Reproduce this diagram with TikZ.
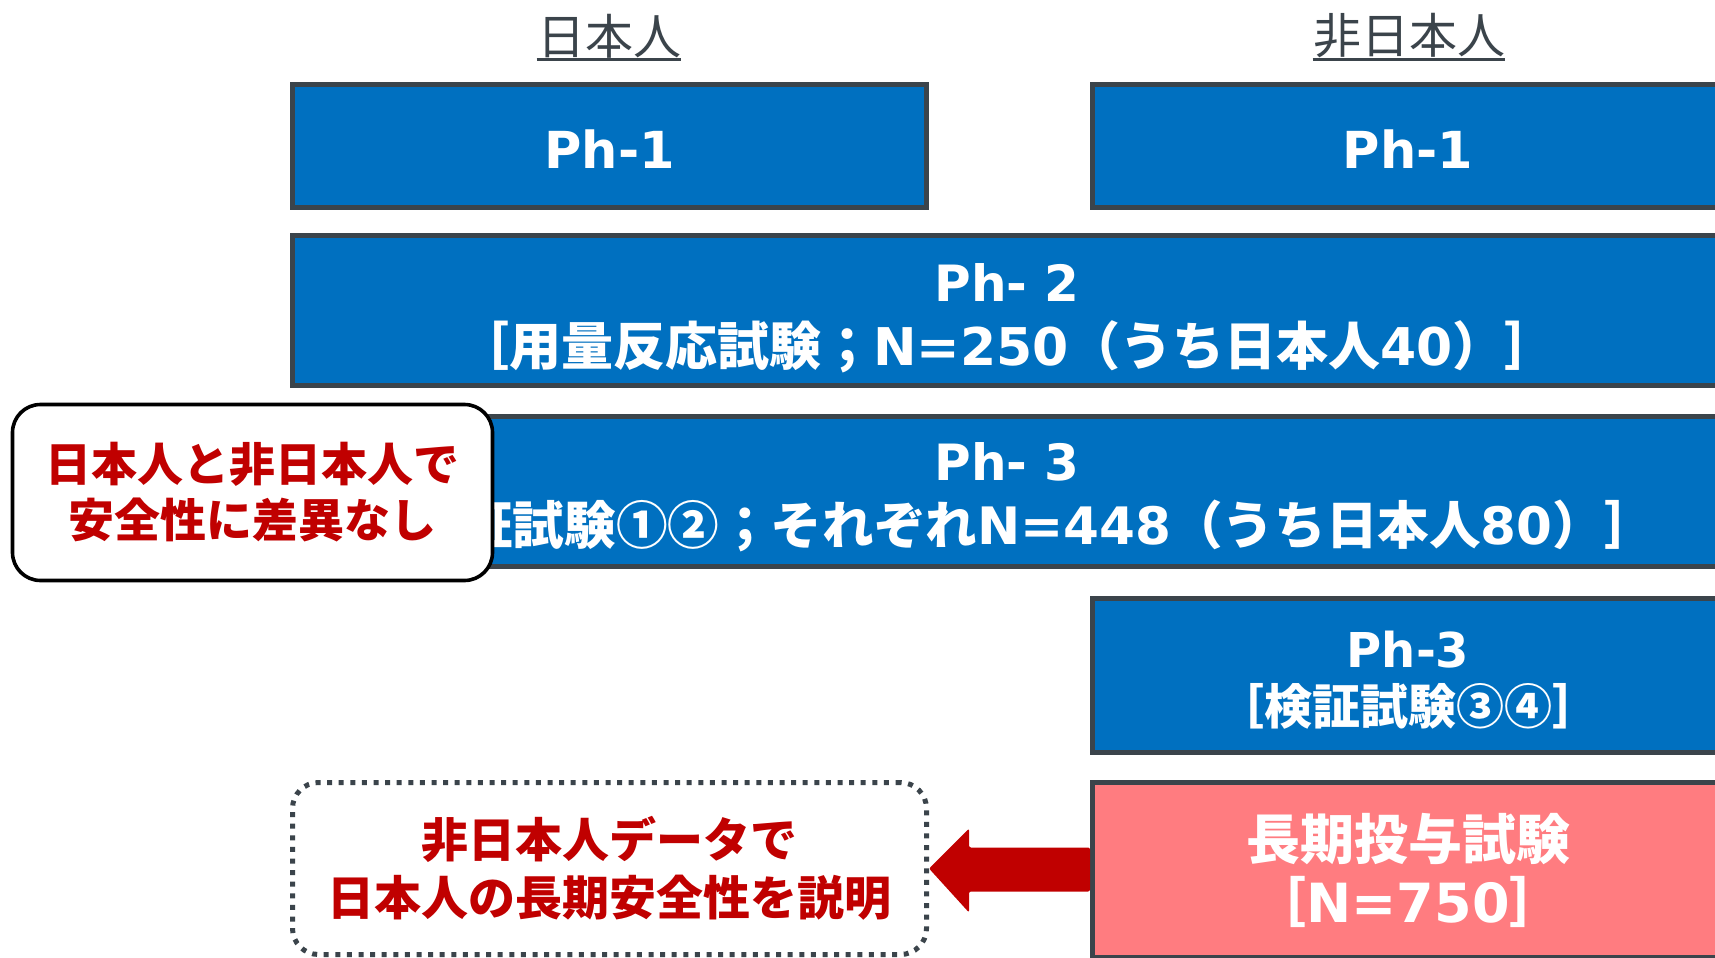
\documentclass[tikz,border=0pt]{standalone}
\usepackage{fontspec}
\setmainfont{DejaVu Sans}
\newfontfamily\jp{Noto Sans CJK JP}
\usetikzlibrary{calc}
\definecolor{boxblue}{HTML}{0070C0}
\definecolor{boxline}{HTML}{3B444B}
\definecolor{pinkfill}{HTML}{FF7C80}
\definecolor{darkred}{HTML}{C00000}
\begin{document}
\begin{tikzpicture}[x=0.5pt,y=-0.5pt,
  phase/.style={draw=boxline, line width=2.5pt, fill=boxblue, inner sep=0pt},
  longbox/.style={phase, fill=pinkfill},
  phasetext/.style={text=white, align=center, inner sep=0pt, font=\bfseries},
  title/.style={font=\jp\fontsize{24}{28}\selectfont, text=boxline, inner sep=0pt},
  remark/.style={text=darkred, align=center, inner sep=0pt},
  calloutbox/.style={remark, draw=black, fill=white, line width=1.8pt, rounded corners=14pt},
  dotbox/.style={remark, draw=boxline, line width=2.5pt, dash pattern=on 2.5pt off 3.3pt, rounded corners=13pt},
  arrowfill/.style={fill=darkred, rounded corners=1pt}
]
\useasboundingbox (0,0) rectangle (1715,958);
\clip (0,0) rectangle (1715,958);

% titles
\node[title] (tj) at (609,36) {日本人};
\node[title] (tn) at (1409,36) {非日本人};
\draw[boxline, line width=1.6pt] ($(tj.south west)+(0,1)$) -- ($(tj.south east)+(0,1)$);
\draw[boxline, line width=1.6pt] ($(tn.south west)+(0,1)$) -- ($(tn.south east)+(0,1)$);

% phase boxes
\node[phase, minimum width=317pt, minimum height=61.5pt] (p1a) at (609.5,146) {};
\node[phasetext, font=\bfseries\fontsize{25.5}{30}\selectfont] (p1at) at ($(p1a)+(0,3)$) {Ph-1};
\node[phase, minimum width=315.5pt, minimum height=61.5pt] (p1b) at (1408,146) {};
\node[phasetext, font=\bfseries\fontsize{25.5}{30}\selectfont] (p1bt) at ($(p1b)+(0,3)$) {Ph-1};

\node[phase, minimum width=714.5pt, minimum height=75pt] (p2) at (1007,310.5) {};
\node[phasetext, font=\bfseries\fontsize{26}{32}\selectfont] (p2t) at ($(p2)+(0,7.5)$)
  {{\fontsize{25}{32}\selectfont Ph- 2}\\{\jp［用量反応試験；}N=250{\jp（うち日本人}40{\jp）］}};

\node[phase, minimum width=714.5pt, minimum height=75pt] (p3w) at (1007,491) {};
\node[phasetext, font=\bfseries\fontsize{25.8}{32}\selectfont] (p3wt) at ($(p3w)+(0,6.5)$)
  {{\fontsize{25}{32}\selectfont Ph- 3}\\{\jp［検証試験①②；それぞれ}N=448{\jp（うち日本人}80{\jp）］}};

\node[phase, minimum width=315.5pt, minimum height=77pt] (p3s) at (1408,675.5) {};
\node[phasetext, font=\bfseries\fontsize{24}{28.5}\selectfont] (p3st) at ($(p3s)+(0,4.5)$)
  {Ph-3\\{\jp［検証試験③④］}};

\node[longbox, minimum width=315.5pt, minimum height=87.5pt] (lt) at (1408,870) {};
\node[phasetext, font=\bfseries\fontsize{27}{31.5}\selectfont] (ltt) at (lt)
  {{\jp 長期投与試験}\\{\jp［}N=750{\jp］}};

% remarks
\node[calloutbox, minimum width=240pt, minimum height=88pt, font=\jp\bfseries\fontsize{23}{28}\selectfont] (co) at (252.5,492.5)
  {日本人と非日本人で\\安全性に差異なし};

\node[dotbox, minimum width=317pt, minimum height=86pt, font=\jp\bfseries\fontsize{23.5}{29}\selectfont] (dt) at (609.5,868.5)
  {非日本人データで\\日本人の長期安全性を説明};

% block arrow from long-term box to dotted box
\coordinate (atip) at (dt.east);
\coordinate (abase) at (lt.west |- dt.east);
\fill[arrowfill] (atip) -- ($(atip)+(40,-40)$) -- ($(atip)+(40,-21)$) -- ($(abase)+(0,-21)$)
  -- ($(abase)+(0,23)$) -- ($(atip)+(40,23)$) -- ($(atip)+(40,44)$) -- cycle;
\end{tikzpicture}
\end{document}
